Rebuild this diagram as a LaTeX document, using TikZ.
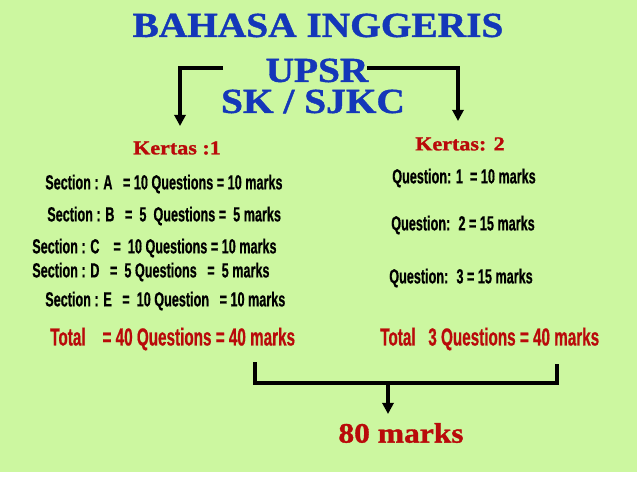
\documentclass[tikz,border=0pt]{standalone}
\usepackage{fontspec}
\setmainfont{Liberation Serif}
\newfontfamily\titlefont[FakeStretch=1.12,FakeBold=1.2]{Liberation Serif}
\newfontfamily\narrowfont[FakeStretch=0.62,FakeBold=0.6]{Liberation Sans}
\usetikzlibrary{arrows.meta}

\definecolor{bggreen}{RGB}{204,247,160}
\definecolor{titleblue}{RGB}{20,55,185}
\definecolor{darkred}{RGB}{185,10,10}

\begin{document}
\begin{tikzpicture}[
  x=0.025cm, y=-0.025cm,
  >={Triangle[length=8pt,width=8pt]},
  title/.style={font=\titlefont\bfseries\fontsize{25}{25}\selectfont, text=titleblue, inner sep=0pt, text height=17pt, text depth=0pt},
  kertas/.style={font=\titlefont\bfseries\fontsize{14}{14}\selectfont, text=darkred, inner sep=0pt},
  item/.style={font=\narrowfont\bfseries\fontsize{14.5}{14.5}\selectfont, inner sep=0pt, anchor=west},
  total/.style={item, text=darkred, font=\narrowfont\bfseries\fontsize{17.5}{17.5}\selectfont},
  link/.style={line width=2.2pt}
  ]
\useasboundingbox (0,0) rectangle (638,479);
\fill [bggreen] (0,0) rectangle (637,472);
% titles
\node [title] (bahasa) at (318,25) {BAHASA INGGERIS};
\node [title] (upsr) at (317,70) {UPSR};
\node [title] (sk) at (313,101) {SK / SJKC};
% paper 1
\node [kertas] (k1) at (177,148) {Kertas :1};
\node [item] (secA) at (45,184) {Section : A \ \ = 10 Questions = 10 marks};
\node [item] (secB) at (47,216) {Section : B \ \ = \ 5 \ Questions = \ 5 marks};
\node [item] (secC) at (32,248) {Section : C \ \ \ = \ 10 Questions = 10 marks};
\node [item] (secD) at (32,272) {Section : D \ \ = \ 5 Questions \ \ = \ 5 marks};
\node [item] (secE) at (45,301) {Section : E \ \ = \ 10 Question \ \ = 10 marks};
% paper 2
\node [kertas] (k2) at (460,144) {Kertas: 2};
\node [item] (q1) at (392,178) {Question: 1 \ = 10 marks};
\node [item] (q2) at (391,225) {Question: \ 2 = 15 marks};
\node [item] (q3) at (389,278) {Question: \ 3 = 15 marks};
% totals
\node [total] (tot1) at (50,339) {Total \ \ \ = 40 Questions = 40 marks};
\node [total] (tot2) at (380,339) {Total \ \ 3 Questions = 40 marks};
\node [kertas, font=\titlefont\bfseries\fontsize{20}{20}\selectfont] (sum) at (401,433) {80 marks};
% connectors
\coordinate (lstart) at (223,68);
\coordinate (lend) at (180,126);
\coordinate (rstart) at (367,68);
\coordinate (rend) at (458,121);
\coordinate (bl) at (255,362);
\coordinate (br) at (557,364);
\coordinate (bmid) at (388,383);
\coordinate (bend) at (388,414);
\draw [link, ->] (lstart) -| (lend);
\draw [link, ->] (rstart) -| (rend);
\draw [link] (bl) |- (bmid) -| (br);
\draw [link, ->] (bmid) -- (bend);
\end{tikzpicture}
\end{document}
